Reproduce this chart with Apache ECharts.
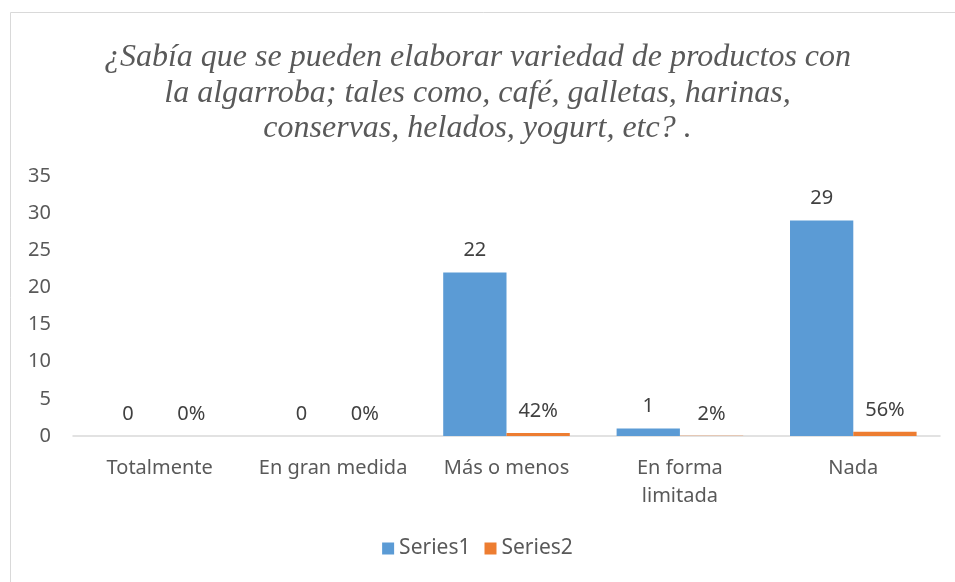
<!DOCTYPE html>
<html>
<head>
<meta charset="utf-8">
<script src="https://cdn.jsdelivr.net/npm/echarts@6/dist/echarts.min.js"></script>
<style>
  html, body { margin: 0; padding: 0; background: #fff; }
  #chart { width: 955px; height: 582px; }
</style>
</head>
<body>
<div id="chart"></div>
<script>
// datos del grafico
var categorias = ['Totalmente', 'En gran medida', 'Más o menos', 'En forma limitada', 'Nada'];
var series1 = [0, 0, 22, 1, 29];
var series2 = [0, 0, 0.42, 0.02, 0.56];
var ejeY = { min: 0, max: 35, interval: 5 };
var titulo = '¿Sabía que se pueden elaborar variedad de productos con\nla algarroba; tales como, café, galletas, harinas,\nconservas, helados, yogurt, etc? .';

var fuente = 'Noto Sans';
var myChart = echarts.init(document.getElementById('chart'));

option = {
    animation: false,
    graphic: [{
        type: 'rect',
        shape: { x: 10.5, y: 12.5, width: 1000, height: 700 },
        style: { fill: 'none', stroke: '#d9d9d9', lineWidth: 1 },
        silent: true
    }],
    title: {
        text: titulo,
        left: 'center',
        top: 35,
        textStyle: {
            fontFamily: 'Liberation Serif',
            fontStyle: 'italic',
            fontWeight: 'normal',
            fontSize: 32,
            lineHeight: 35.5,
            color: '#595959'
        }
    },
    legend: {
        data: ['Series1', 'Series2'],
        bottom: 18,
        left: 'center',
        itemWidth: 12,
        itemHeight: 12,
        itemGap: 14,
        itemTextGap: 3,
        icon: 'rect',
        textStyle: { fontFamily: fuente, fontSize: 21, color: '#595959' }
    },
    grid: { left: 73, right: 15, top: 176, bottom: 146 },
    xAxis: {
        type: 'category',
        data: categorias,
        axisTick: { show: false },
        axisLine: { lineStyle: { color: '#d9d9d9', width: 1.5 } },
        axisLabel: {
            fontFamily: fuente,
            fontSize: 20,
            color: '#595959',
            margin: 18,
            lineHeight: 28,
            interval: 0,
            formatter: function (v) {
                return v === 'En forma limitada' ? 'En forma\nlimitada' : v;
            }
        }
    },
    yAxis: {
        type: 'value',
        min: ejeY.min,
        max: ejeY.max,
        interval: ejeY.interval,
        axisLine: { show: false },
        axisTick: { show: false },
        splitLine: { show: false },
        axisLabel: { fontFamily: fuente, fontSize: 20, color: '#595959', margin: 22 }
    },
    series: [{
        name: 'Series1',
        type: 'bar',
        data: series1,
        barGap: '0%',
        barCategoryGap: '27%',
        itemStyle: { color: '#5b9bd5' },
        label: {
            show: true,
            position: 'top',
            distance: 12,
            fontFamily: fuente,
            fontSize: 20,
            color: '#404040'
        }
    }, {
        name: 'Series2',
        type: 'bar',
        data: series2,
        itemStyle: { color: '#ed7d31' },
        label: {
            show: true,
            position: 'top',
            distance: 12,
            fontFamily: fuente,
            fontSize: 20,
            color: '#404040',
            formatter: function (p) { return Math.round(p.value * 100) + '%'; }
        }
    }]
};
myChart.setOption(option);
</script>
</body>
</html>
